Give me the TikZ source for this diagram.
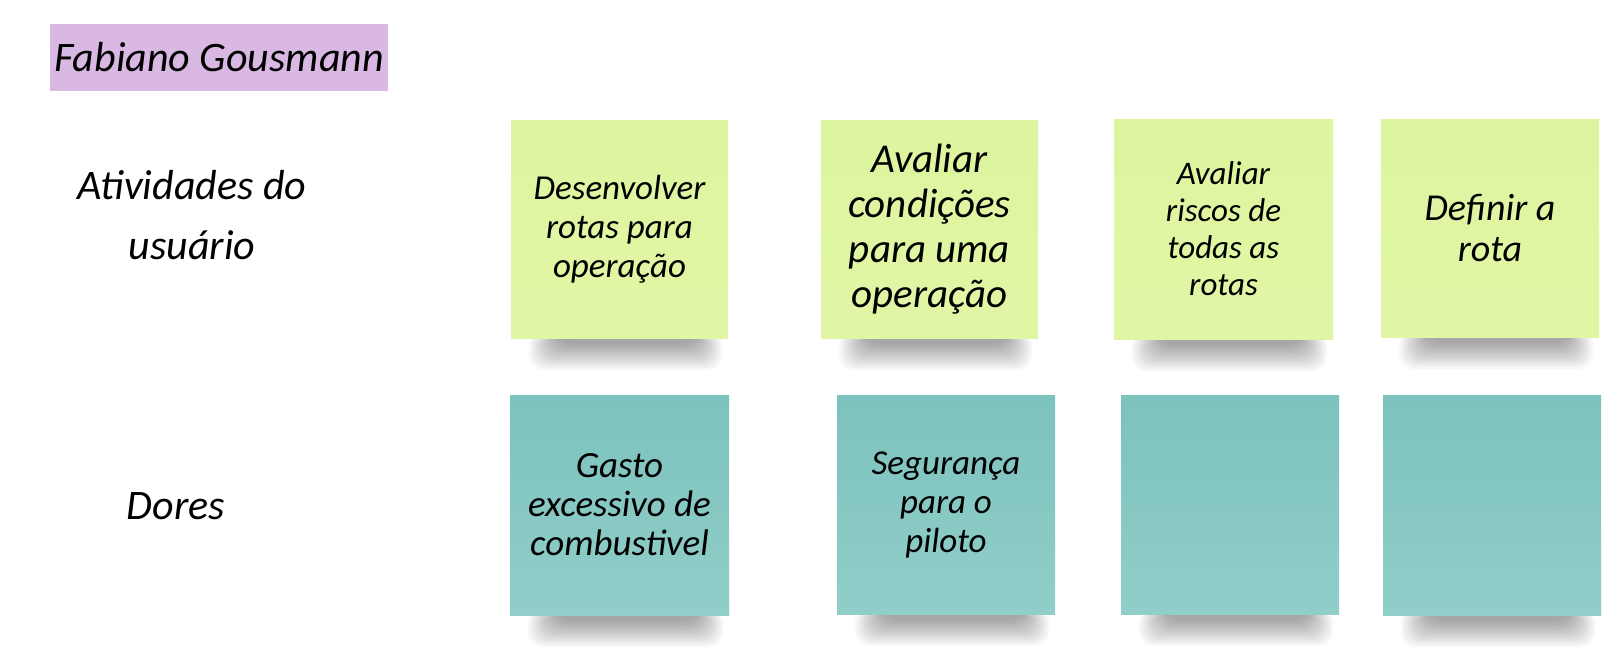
\documentclass[tikz,border=0pt]{standalone}
\usepackage{fontspec}
\newfontfamily\hand{Carlito}
\definecolor{notegreen}{HTML}{DDF59F}
\definecolor{notegreenb}{HTML}{E1F6A5}
\definecolor{noteteal}{HTML}{7CC2BD}
\definecolor{notetealb}{HTML}{91CEC9}
\definecolor{namepurple}{HTML}{D9B8E3}
\tikzset{
  greennote/.style={top color=notegreen, bottom color=notegreenb},
  tealnote/.style={top color=noteteal, bottom color=notetealb},
  notebox/.style={inner sep=0pt, align=center, text=black},
  label/.style={inner sep=0pt, align=center, text=black, font=\hand\itshape\fontsize{21}{30}\selectfont}
}
\newcommand\stickynote[9]{%
  \foreach \k in {0,...,13}{%
    \fill[black, opacity=0.028, rounded corners=7pt]
      ({#2+18+2.2*\k},{#5-6}) rectangle ({#4-6-2*\k},{#5+32-2*\k});
  }
  \node[notebox, #6, minimum width={(#4-#2)*0.5pt}, minimum height={(#5-#3)*0.5pt},
        font=\hand\itshape\fontsize{#7}{#8}\selectfont]
    (#1) at ({(#2+#4)/2},{(#3+#5)/2}) {#9};
}
\begin{document}
\begin{tikzpicture}[x=0.5pt,y=-0.5pt]
\useasboundingbox[fill=white] (0,0) rectangle (1622,654);

% name tag
\node[fill=namepurple, inner sep=0pt, minimum width=169pt, minimum height=33.5pt,
      font=\hand\itshape\fontsize{21}{26}\selectfont] (name) at (219,57.5) {Fabiano Gousmann};

% row labels
\node[label] (atividades) at (192,215) {Atividades do\\usuário};
\node[label] (dores) at (176,506) {Dores};

% activities (green)
\stickynote{g1}{511}{120}{728}{338}{greennote}{17.5}{19.5}{Desenvolver\\rotas para\\operação}
\stickynote{g2}{821}{120}{1038}{338}{greennote}{20.5}{22.5}{Avaliar\\condições\\para uma\\operação}
\stickynote{g3}{1114}{119}{1333}{339}{greennote}{16.5}{18.5}{Avaliar\\riscos de\\todas as\\rotas}
\stickynote{g4}{1381}{119}{1599}{337}{greennote}{19}{20.5}{Definir a\\rota}

% pains (teal)
\stickynote{t1}{510}{395}{729}{615}{tealnote}{18.5}{19.5}{Gasto\\excessivo de\\combustivel}
\stickynote{t2}{837}{395}{1055}{614}{tealnote}{17.5}{19.5}{Segurança\\para o\\piloto}
\stickynote{t3}{1121}{395}{1339}{614}{tealnote}{17}{19}{}
\stickynote{t4}{1383}{395}{1601}{615}{tealnote}{17}{19}{}
\end{tikzpicture}
\end{document}
